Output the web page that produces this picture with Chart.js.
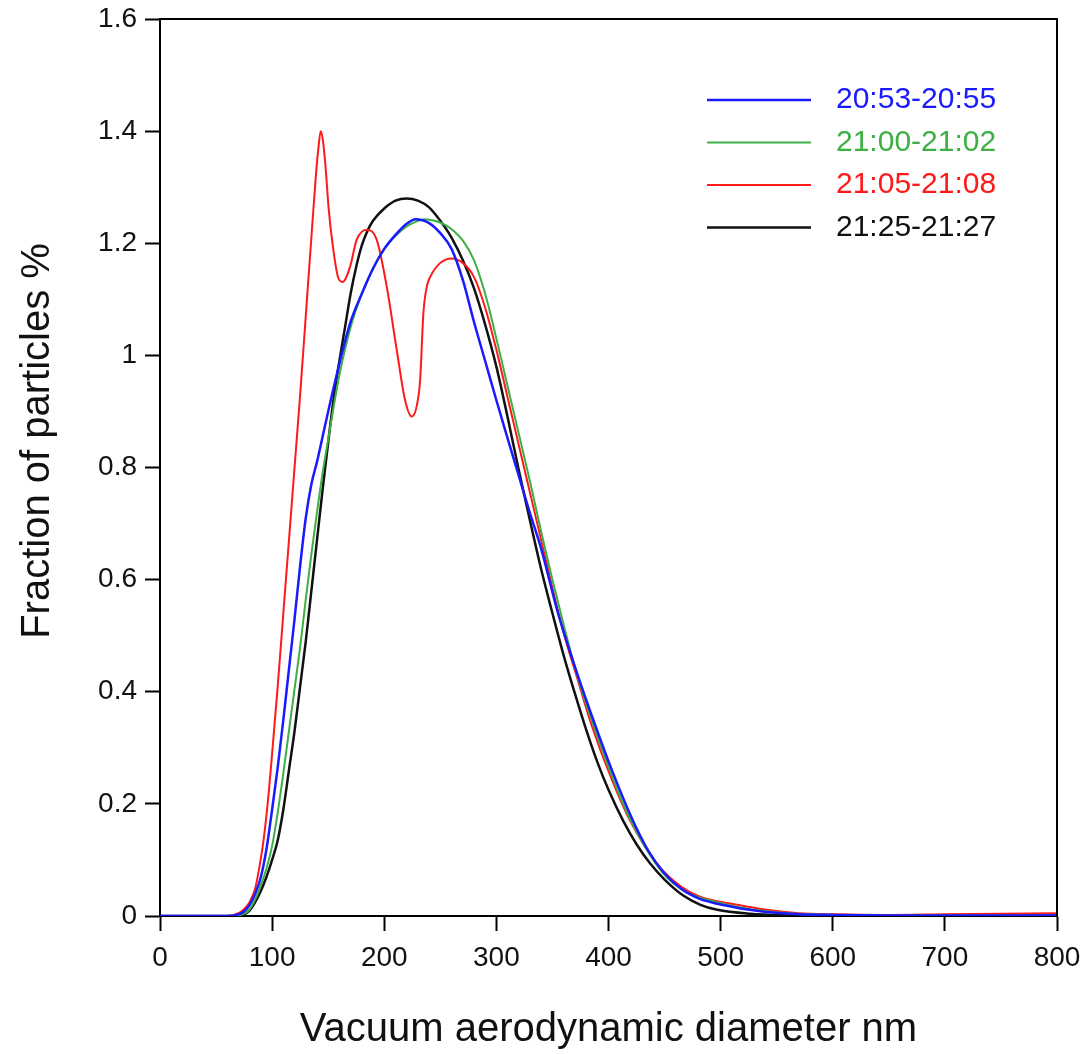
<!DOCTYPE html>
<html>
<head>
<meta charset="utf-8">
<script src="https://cdn.jsdelivr.net/npm/chart.js@4"></script>
<style>
  html, body { margin: 0; padding: 0; background: #fff; }
  #wrap { width: 1089px; height: 1054px; }
</style>
</head>
<body>
<div id="wrap"><canvas id="sizeChart"></canvas></div>
<script>
var seriesNames = ["20:53-20:55", "21:00-21:02", "21:05-21:08", "21:25-21:27"];
var seriesColors = ["#1a1aff", "#3cb043", "#ff1a1a", "#111111"];

// diameter (nm) and fraction (%)
var xBlue = [0, 20, 40, 60, 70, 75, 80, 85, 90, 95, 100, 105, 110, 115, 120, 125, 130, 135, 140, 145, 150, 160, 170, 180, 190, 200, 210, 220, 228, 240, 250, 260, 270, 280, 290, 300, 310, 320, 330, 340, 355, 373, 390, 404, 420, 435, 449, 465, 482, 497, 526, 541, 570, 600, 650, 700, 750, 800];
var yBlue = [0, 0, 0, 0, 0.003, 0.008, 0.02, 0.04, 0.07, 0.12, 0.19, 0.265, 0.35, 0.44, 0.53, 0.625, 0.71, 0.77, 0.81, 0.855, 0.9, 0.985, 1.06, 1.11, 1.155, 1.19, 1.215, 1.235, 1.243, 1.236, 1.218, 1.19, 1.135, 1.06, 0.99, 0.92, 0.852, 0.785, 0.718, 0.655, 0.54, 0.427, 0.33, 0.255, 0.178, 0.118, 0.078, 0.048, 0.03, 0.022, 0.011, 0.007, 0.003, 0.002, 0.001, 0.001, 0.001, 0.001];

var xGreen = [0, 20, 40, 60, 75, 80, 85, 90, 95, 100, 105, 110, 115, 120, 125, 130, 135, 140, 145, 150, 155, 160, 170, 180, 190, 200, 210, 220, 230, 236, 245, 255, 262, 270, 280, 290, 300, 310, 320, 330, 340, 350, 372, 403, 420, 448, 470, 496, 526, 560, 600, 650, 700, 750, 800];
var yGreen = [0, 0, 0, 0, 0.004, 0.012, 0.03, 0.055, 0.085, 0.125, 0.185, 0.255, 0.33, 0.405, 0.48, 0.565, 0.645, 0.72, 0.79, 0.85, 0.91, 0.965, 1.05, 1.11, 1.155, 1.19, 1.213, 1.23, 1.24, 1.243, 1.24, 1.232, 1.222, 1.205, 1.17, 1.11, 1.03, 0.945, 0.86, 0.775, 0.685, 0.6, 0.43, 0.25, 0.17, 0.078, 0.042, 0.025, 0.012, 0.005, 0.002, 0.001, 0.001, 0.001, 0.001];

var xRed = [0, 20, 40, 60, 70, 75, 80, 85, 88, 92, 96, 100, 105, 110, 115, 120, 125, 130, 135, 139, 141.3, 143.3, 145.2, 147.5, 150.5, 154.6, 159, 163, 169.5, 175.4, 184.4, 193.3, 202.2, 211.1, 218.6, 224.5, 229, 232, 234.9, 238, 241, 250, 260.2, 270, 280, 290, 300, 310, 320, 330, 340, 350, 360, 372, 385, 402, 419, 443, 465, 482, 515, 541, 570, 600, 650, 700, 750, 800];
var yRed = [0, 0, 0, 0, 0.005, 0.012, 0.025, 0.05, 0.08, 0.13, 0.2, 0.29, 0.41, 0.54, 0.67, 0.8, 0.93, 1.07, 1.21, 1.32, 1.37, 1.40, 1.385, 1.34, 1.26, 1.188, 1.138, 1.131, 1.158, 1.206, 1.224, 1.206, 1.123, 1.01, 0.92, 0.891, 0.91, 0.956, 1.075, 1.123, 1.14, 1.165, 1.173, 1.165, 1.14, 1.085, 1.01, 0.925, 0.84, 0.755, 0.67, 0.585, 0.505, 0.425, 0.34, 0.248, 0.171, 0.094, 0.052, 0.034, 0.02, 0.011, 0.005, 0.003, 0.002, 0.003, 0.004, 0.005];

var xBlack = [0, 20, 40, 60, 70, 75, 80, 85, 90, 95, 100, 105, 110, 115, 120, 125, 130, 135, 140, 145, 150, 155, 160, 165, 170, 175, 180, 185, 190, 200, 210, 220, 230, 240, 250, 260, 270, 280, 290, 300, 310, 320, 330, 340, 350, 360, 370, 380, 390, 400, 413, 425, 437, 450, 467, 482, 497, 526, 560, 600, 650, 700, 750, 800];
var yBlack = [0, 0, 0, 0, 0.001, 0.003, 0.01, 0.025, 0.045, 0.07, 0.1, 0.135, 0.19, 0.26, 0.33, 0.41, 0.49, 0.58, 0.67, 0.76, 0.845, 0.925, 0.99, 1.05, 1.11, 1.158, 1.196, 1.222, 1.24, 1.262, 1.276, 1.28, 1.276, 1.264, 1.24, 1.21, 1.17, 1.12, 1.055, 0.98, 0.89, 0.795, 0.705, 0.618, 0.54, 0.465, 0.397, 0.333, 0.275, 0.225, 0.17, 0.128, 0.094, 0.065, 0.036, 0.02, 0.011, 0.004, 0.001, 0, 0, 0, 0.001, 0.001];

var xTicks = [0, 100, 200, 300, 400, 500, 600, 700, 800];
var yTicks = [0, 0.2, 0.4, 0.6, 0.8, 1, 1.2, 1.4, 1.6];

var FONT = "'Liberation Sans', Arial, sans-serif";

function toPoints(xs, ys) {
  return xs.map(function (x, i) { return { x: x, y: ys[i] }; });
}

var allX = [xBlue, xGreen, xRed, xBlack];
var allY = [yBlue, yGreen, yRed, yBlack];

var datasets = seriesNames.map(function (name, i) {
  return {
    label: name,
    data: toPoints(allX[i], allY[i]),
    borderColor: seriesColors[i],
    borderWidth: (i === 0 || i === 3) ? 2.5 : 2,
    pointRadius: 0,
    fill: false,
    cubicInterpolationMode: "monotone"
  };
});

// frame on top/right, y title and the in-plot legend
var framePlugin = {
  id: "frame",
  afterDraw: function (chart) {
    var ctx = chart.ctx;
    var a = chart.chartArea;
    ctx.save();
    ctx.strokeStyle = "#000";
    ctx.lineWidth = 2;
    ctx.beginPath();
    ctx.moveTo(a.left, a.top);
    ctx.lineTo(a.right, a.top);
    ctx.lineTo(a.right, a.bottom);
    ctx.stroke();

    ctx.save();
    ctx.translate(38, 441);
    ctx.rotate(-Math.PI / 2);
    ctx.font = "40px " + FONT;
    ctx.fillStyle = "#111";
    ctx.textAlign = "center";
    ctx.textBaseline = "middle";
    ctx.fillText("Fraction of particles %", 0, 0);
    ctx.restore();

    ctx.font = "30px " + FONT;
    ctx.textBaseline = "middle";
    ctx.textAlign = "left";
    chart.data.datasets.forEach(function (ds, i) {
      var y = 100 + i * 42.5;
      ctx.strokeStyle = ds.borderColor;
      ctx.lineWidth = ds.borderWidth;
      ctx.beginPath();
      ctx.moveTo(707, y);
      ctx.lineTo(811, y);
      ctx.stroke();
      ctx.fillStyle = ds.borderColor;
      ctx.fillText(ds.label, 836, y);
    });
    ctx.restore();
  }
};

var ctx = document.getElementById("sizeChart");

new Chart(ctx, {
  type: "line",
  data: { datasets: datasets },
  options: {
    responsive: true,
    maintainAspectRatio: false,
    animation: false,
    layout: { padding: { left: 0, right: 32, top: 19, bottom: 0 } },
    plugins: {
      legend: { display: false },
      tooltip: { enabled: false }
    },
    scales: {
      x: {
        type: "linear",
        min: 0,
        max: 800,
        afterFit: function (s) { s.height = 138; s.paddingLeft = 0; s.paddingRight = 0; },
        afterBuildTicks: function (s) { s.ticks = xTicks.map(function (v) { return { value: v }; }); },
        ticks: { color: "#111", font: { size: 28, family: FONT }, padding: 10, maxRotation: 0 },
        grid: { drawOnChartArea: false, drawTicks: true, tickLength: 15, tickWidth: 2, tickColor: "#000" },
        border: { display: true, color: "#000", width: 2 },
        title: {
          display: true,
          text: "Vacuum aerodynamic diameter nm",
          color: "#111",
          font: { size: 40, family: FONT },
          padding: { top: 0, bottom: 0 }
        }
      },
      y: {
        min: 0,
        max: 1.6,
        afterFit: function (s) { s.width = 160; s.paddingTop = 0; s.paddingBottom = 0; },
        afterBuildTicks: function (s) { s.ticks = yTicks.map(function (v) { return { value: v }; }); },
        ticks: {
          color: "#111",
          font: { size: 28, family: FONT },
          padding: 8,
          callback: function (v) { return String(+v.toFixed(1)); }
        },
        grid: { drawOnChartArea: false, drawTicks: true, tickLength: 15, tickWidth: 2, tickColor: "#000" },
        border: { display: true, color: "#000", width: 2 }
      }
    }
  },
  plugins: [framePlugin]
});
</script>
</body>
</html>
